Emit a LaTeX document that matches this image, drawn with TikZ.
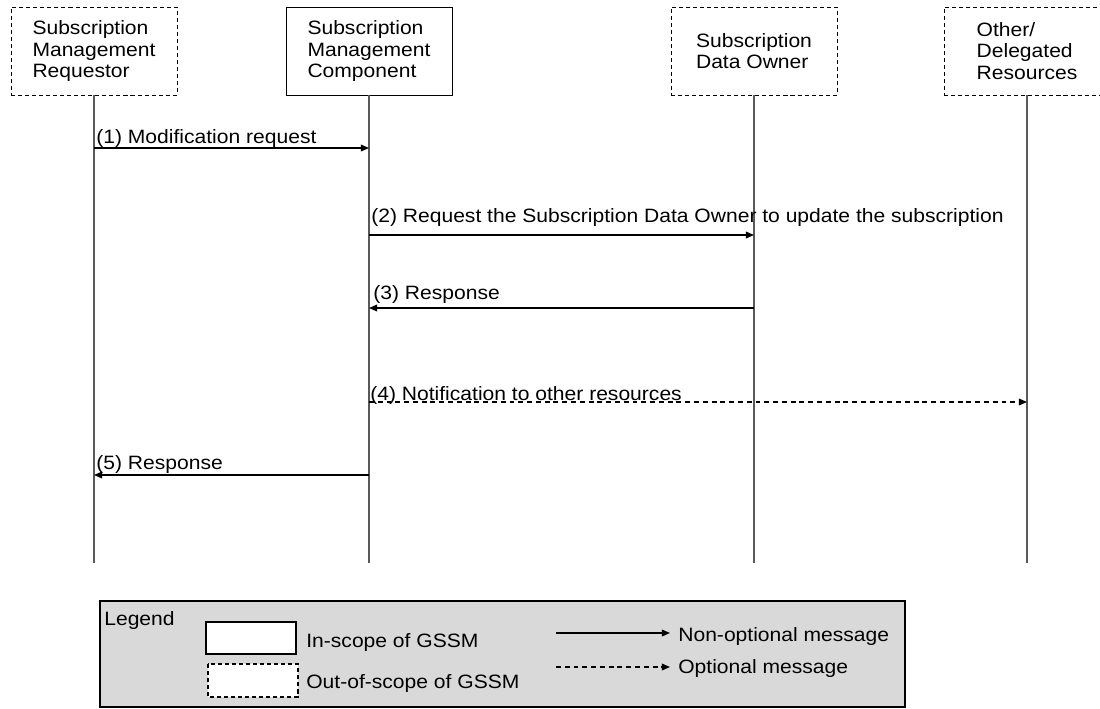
\documentclass[tikz,border=0pt]{standalone}
\usepackage{fontspec}
\setmainfont{Liberation Sans}[FakeStretch=1.09]
\usetikzlibrary{arrows.meta}
\definecolor{legendgray}{RGB}{217,217,217}
\tikzset{
  actor/.style={draw, minimum width=3.32cm, minimum height=1.76cm, align=left, inner sep=0pt, font=\fontsize{11}{12.2}\selectfont},
  ext/.style={actor, dash pattern=on 2.3pt off 1.7pt},
  life/.style={draw=black!65, line width=0.9pt},
  msg/.style={-{Triangle[length=4.6pt,width=3.8pt]}, line width=0.7pt},
  opt/.style={msg, dash pattern=on 2.8pt off 2.2pt},
  lbl/.style={anchor=base west, inner sep=0pt, font=\fontsize{11}{12.2}\selectfont}
}
\begin{document}
\begin{tikzpicture}[x=0.02cm, y=-0.02cm]
    \useasboundingbox (0,0) rectangle (1100,708);
    \clip (0,0) rectangle (1100,708);

    \node[ext] (req) at (94,51) {Subscription\\Management\\Requestor};
    \node[actor] (smc) at (369,51) {Subscription\\Management\\Component};
    \node[ext] (owner) at (754,51) {Subscription\\Data Owner};
    \node[ext] (other) at (1027,51) {Other/\\Delegated\\Resources};

    \coordinate (lifeend) at (0,563);
    \foreach \n in {req,smc,owner,other}
        \draw[life] (\n.south) -- (\n |- lifeend);

    \coordinate (t1) at (0,148);
    \coordinate (t2) at (0,235);
    \coordinate (t3) at (0,308);
    \coordinate (t4) at (0,402);
    \coordinate (t5) at (0,475);

    \draw[msg] (req |- t1) -- (smc |- t1);
    \draw[msg] (smc |- t2) -- (owner |- t2);
    \draw[msg] (owner |- t3) -- (smc |- t3);
    \draw[opt] (smc |- t4) -- (other |- t4);
    \draw[msg] (smc |- t5) -- (req |- t5);

    \node[lbl] (m1) at (96,143) {(1) Modification request};
    \node[lbl] (m2) at (371,222) {(2) Request the Subscription Data Owner to update the subscription};
    \node[lbl] (m3) at (373,299) {(3) Response};
    \node[lbl] (m4) at (370,400) {(4) Notification to other resources};
    \node[lbl] (m5) at (96,469) {(5) Response};

    \draw[fill=legendgray, line width=0.8pt] (100,601) rectangle (905,707);
    \node[lbl] (legend) at (104,625) {Legend};
    \draw[fill=white, line width=0.6pt] (206,622) rectangle (296,654);
    \draw[fill=white, line width=0.6pt, dash pattern=on 2.3pt off 1.7pt] (208,664) rectangle (298,697);
    \node[lbl] (inscope) at (306,647) {In-scope of GSSM};
    \node[lbl] (outscope) at (306,688) {Out-of-scope of GSSM};

    \coordinate (k1) at (556,633);
    \coordinate (k2) at (556,667);
    \draw[msg] (k1) -- ++(114,0);
    \draw[opt] (k2) -- ++(114,0);
    \node[lbl] (nonopt) at (678,641) {Non-optional message};
    \node[lbl] (optmsg) at (678,673) {Optional message};
\end{tikzpicture}
\end{document}
